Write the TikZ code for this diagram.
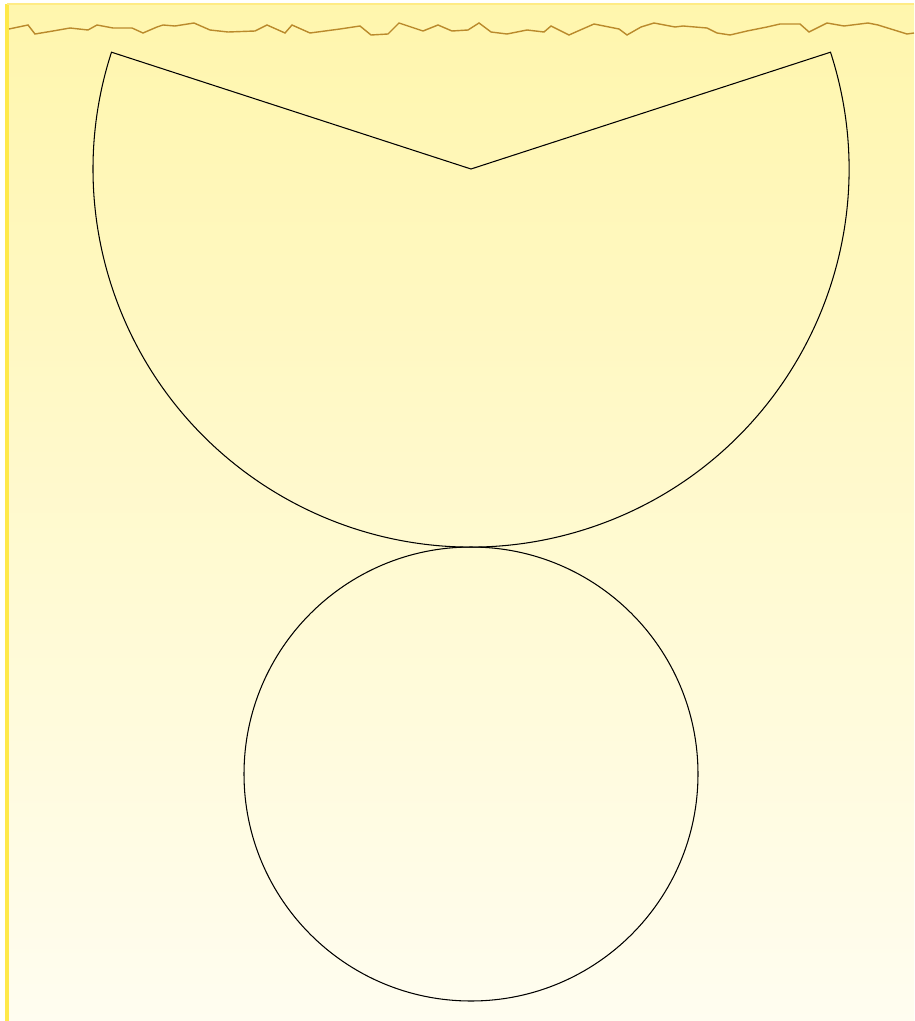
\documentclass[tikz,border=0pt]{standalone}
\definecolor{sandtop}{HTML}{FFF6AD}
\definecolor{sandbot}{HTML}{FFFDF0}
\definecolor{rimside}{HTML}{FFE94A}
\definecolor{rimtop}{HTML}{FFEB85}
\definecolor{crackcol}{HTML}{BA8A2C}
\begin{document}
\begin{tikzpicture}[x=0.02cm,y=-0.02cm,line join=miter,
		ground/.style={top color=sandtop,bottom color=sandbot},
		outline/.style={draw=black,line width=0.6pt},
		crack/.style={draw=crackcol,line width=0.8pt}]
		\useasboundingbox (0,0) rectangle (914,1021);
		\shade[ground] (7,4) rectangle (914,1021);
		\draw[rimside,line width=2.2pt] (7,4)--(7,1021);
		\draw[rimtop,line width=1pt] (7,4)--(914,4);
		% jagged line along the top
		\draw[crack] plot coordinates {(9,29) (28,25) (35,34) (53,31) (70,28) (88,30) (97,25) (113,28) (132,28) (143,33) (157,27) (163,25) (175,26) (194,23) (210,30) (228,32) (255,31) (267,25) (285,33) (292,25) (310,33) (340,29) (360,26) (371,35) (388,34) (399,23) (423,31) (438,25) (452,31) (468,30) (479,23) (491,32) (507,34) (527,30) (544,32) (551,26) (569,35) (578,31) (594,24) (619,29) (627,35) (641,27) (654,23) (675,27) (683,26) (707,28) (717,33) (730,35) (747,31) (767,27) (780,24) (800,24) (809,32) (827,23) (844,26) (868,23) (878,25) (907,34) (914,33)};
		% cut disc and circle
		\draw[outline] (471,169) -- ++(-18:378) arc[start angle=-18,end angle=198,radius=378] -- cycle;
		\draw[outline] (471,774) circle[radius=227];
	\end{tikzpicture}
\end{document}
